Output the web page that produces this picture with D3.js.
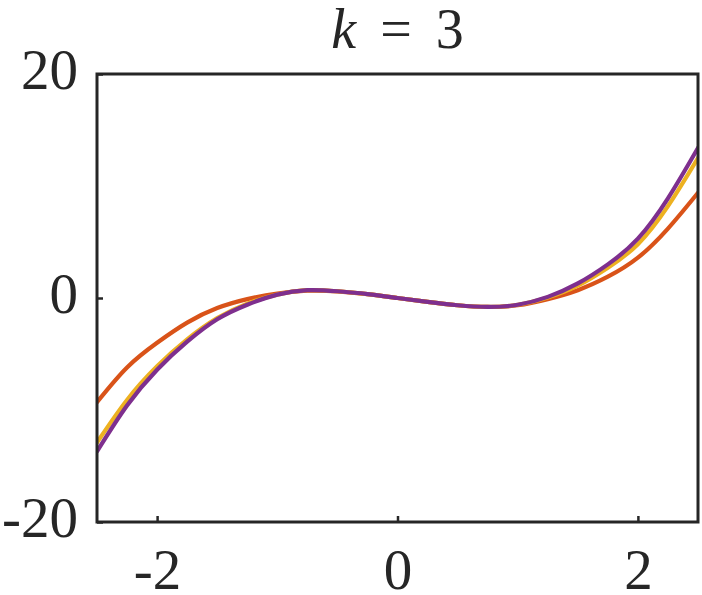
<!DOCTYPE html>
<html>
<head>
<meta charset="utf-8">
<script src="https://cdn.jsdelivr.net/npm/d3@7"></script>
<style>
  body { margin: 0; background: #fff; }
</style>
</head>
<body>
<div id="chart"></div>
<script>
// values
var xs = [-2.5, -2.25, -2, -1.75, -1.5, -1.25, -1, -0.75, -0.5, -0.25, 0, 0.25, 0.5, 0.75, 1, 1.25, 1.5, 1.75, 2, 2.25, 2.5];
var orangeVals = [-9.3, -6.2, -4.0, -2.2, -0.9, -0.1, 0.4, 0.65, 0.6, 0.35, 0, -0.35, -0.65, -0.8, -0.65, -0.1, 0.7, 1.9, 3.6, 6.2, 9.4];
var yellowVals = [-12.9, -9.1, -6.1, -3.7, -1.8, -0.5, 0.3, 0.7, 0.6, 0.35, 0, -0.35, -0.65, -0.8, -0.6, 0.05, 1.1, 2.7, 4.8, 8.2, 12.5];
var purpleVals = [-13.7, -9.6, -6.4, -3.9, -1.9, -0.6, 0.3, 0.7, 0.6, 0.35, 0, -0.35, -0.65, -0.8, -0.6, 0.1, 1.3, 3.0, 5.3, 8.9, 13.4];
var seriesColors = ["#D95319", "#EDB120", "#7E2F8E"];
var xTicks = [-2, 0, 2];
var yTicks = [-20, 0, 20];

var W = 702, H = 595;
var margin = {top: 74, right: 4, bottom: 73, left: 97};
var width = W - margin.left - margin.right,
    height = H - margin.top - margin.bottom;
var serif = "'Liberation Serif', 'Times New Roman', serif";
var ink = "#262626";

var svg = d3.select("#chart").append("svg")
    .attr("width", W)
    .attr("height", H);

var g = svg.append("g")
    .attr("transform", "translate(" + margin.left + "," + margin.top + ")");

var x = d3.scaleLinear().domain([-2.5, 2.5]).range([0, width]);
var y = d3.scaleLinear().domain([-20, 20]).range([height, 0]);

svg.append("defs").append("clipPath").attr("id", "plotclip")
  .append("rect").attr("width", width).attr("height", height);

var line = d3.line()
    .x(function(d) { return x(d[0]); })
    .y(function(d) { return y(d[1]); })
    .curve(d3.curveNatural);

var allSeries = [orangeVals, yellowVals, purpleVals];
var plot = g.append("g").attr("clip-path", "url(#plotclip)");
allSeries.forEach(function(vals, i) {
  plot.append("path")
    .datum(xs.map(function(v, j) { return [v, vals[j]]; }))
    .attr("fill", "none")
    .attr("stroke", seriesColors[i])
    .attr("stroke-width", 4.2)
    .attr("stroke-linecap", "round")
    .attr("d", line);
});

// box
g.append("rect")
    .attr("width", width)
    .attr("height", height)
    .attr("fill", "none")
    .attr("stroke", ink)
    .attr("stroke-width", 3);

var fmt = function(d) { return d < 0 ? "-" + Math.abs(d) : d; };

// bottom axis, ticks pointing in
var xAxis = g.append("g")
    .attr("transform", "translate(0," + height + ")")
    .call(d3.axisBottom(x).tickValues(xTicks).tickSize(-6));
xAxis.select(".domain").remove();
xAxis.selectAll(".tick line").attr("stroke", ink).attr("stroke-width", 2.5);
xAxis.selectAll(".tick text")
    .attr("y", 67)
    .attr("dy", 0)
    .style("font-size", "57px")
    .style("font-family", serif)
    .attr("fill", ink)
    .text(fmt);

var yAxis = g.append("g")
    .call(d3.axisLeft(y).tickValues(yTicks).tickSize(-6));
yAxis.select(".domain").remove();
yAxis.selectAll(".tick line").attr("stroke", ink).attr("stroke-width", 2.5);
yAxis.selectAll(".tick text")
    .attr("x", -19)
    .attr("dy", 14)
    .style("font-size", "57px")
    .style("font-family", serif)
    .attr("fill", ink)
    .text(fmt);

// title
var title = svg.append("text")
    .attr("x", margin.left + width / 2)
    .attr("y", 48)
    .attr("text-anchor", "middle")
    .attr("fill", ink)
    .style("font-family", serif)
    .style("font-size", "56px");
title.append("tspan").style("font-style", "italic").text("k");
title.append("tspan").attr("dx", 24).text("=");
title.append("tspan").attr("dx", 24).text("3");
</script>
</body>
</html>
